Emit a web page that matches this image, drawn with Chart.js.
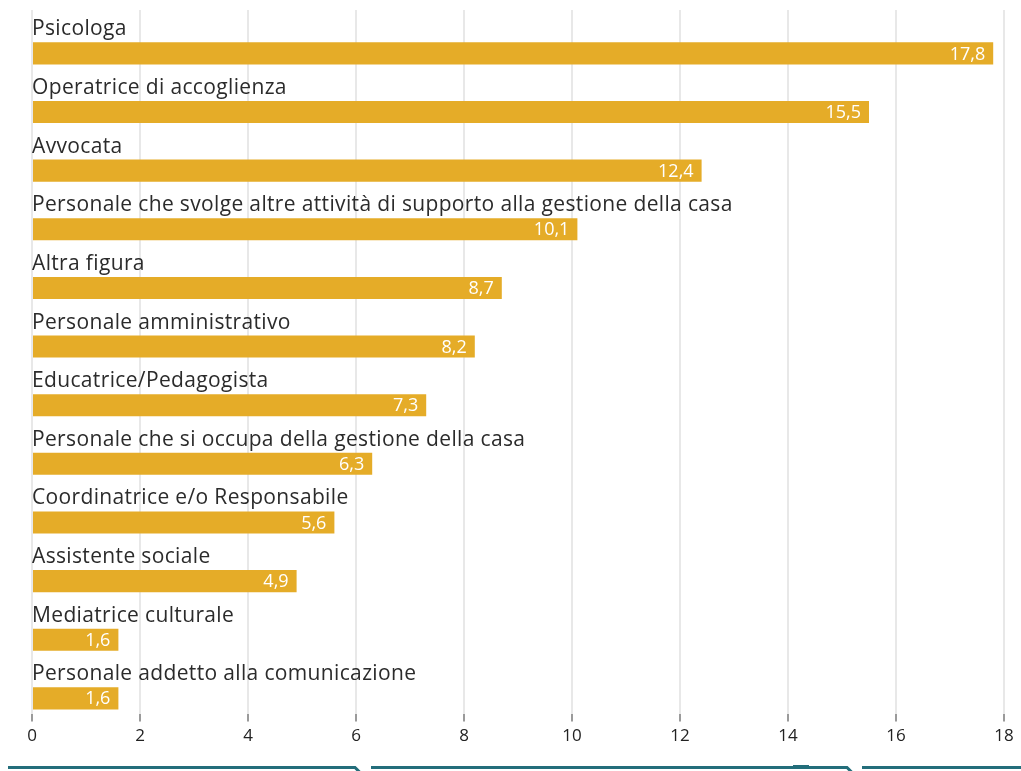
<!DOCTYPE html>
<html lang="it">
<head>
<meta charset="utf-8">
<title>Figure professionali</title>
<script src="https://cdn.jsdelivr.net/npm/chart.js@4/dist/chart.umd.min.js"></script>
<style>
  html, body { margin: 0; padding: 0; background: #ffffff; }
  #wrap { position: relative; width: 1021px; height: 771px; }
</style>
</head>
<body>
<div id="wrap"><canvas id="chart" width="1021" height="771"></canvas></div>
<script>
// Figure professionali presenti nelle case (valori percentuali)
const categories = [
  "Psicologa",
  "Operatrice di accoglienza",
  "Avvocata",
  "Personale che svolge altre attività di supporto alla gestione della casa",
  "Altra figura",
  "Personale amministrativo",
  "Educatrice/Pedagogista",
  "Personale che si occupa della gestione della casa",
  "Coordinatrice e/o Responsabile",
  "Assistente sociale",
  "Mediatrice culturale",
  "Personale addetto alla comunicazione"
];
const values = [17.8, 15.5, 12.4, 10.1, 8.7, 8.2, 7.3, 6.3, 5.6, 4.9, 1.6, 1.6];
const axisTicks = [0, 2, 4, 6, 8, 10, 12, 14, 16, 18];

const BAR_COLOR = "#E5AC28";
const LABEL_FONT = "21px 'Open Sans', sans-serif";
const VALUE_FONT = "18px 'Open Sans', sans-serif";

const fmt = v => v.toFixed(1).replace(".", ",");

// Category names sit above each bar, value labels inside the bar end
const labelPlugin = {
  id: "barLabels",
  afterDatasetsDraw(chart) {
    const ctx = chart.ctx;
    const left = chart.chartArea.left;
    const meta = chart.getDatasetMeta(1);
    ctx.save();
    meta.data.forEach((bar, i) => {
      const top = bar.y - bar.height / 2;
      ctx.font = LABEL_FONT;
      ctx.letterSpacing = "0.35px";
      ctx.fillStyle = "#2b2b2b";
      ctx.textAlign = "left";
      ctx.textBaseline = "alphabetic";
      ctx.fillText(categories[i], left, top - 7);

      ctx.font = VALUE_FONT;
      ctx.letterSpacing = "0px";
      ctx.fillStyle = "#ffffff";
      ctx.textAlign = "right";
      ctx.textBaseline = "middle";
      ctx.fillText(fmt(values[i]), bar.x - 8, bar.y + 1);
    });
    ctx.restore();
  }
};

// Teal navigation rule along the bottom edge
const footerPlugin = {
  id: "footerRule",
  afterDraw(chart) {
    const ctx = chart.ctx;
    const y = 767.5;
    ctx.save();
    ctx.strokeStyle = "#236E7B";
    ctx.lineWidth = 3;
    ctx.lineCap = "butt";
    ctx.beginPath();
    ctx.moveTo(8, y); ctx.lineTo(355, y); ctx.lineTo(360, y + 5);
    ctx.moveTo(371, y); ctx.lineTo(847, y); ctx.lineTo(852, y + 5);
    ctx.moveTo(862, y); ctx.lineTo(1021, y);
    ctx.stroke();
    ctx.fillStyle = "#236E7B";
    ctx.fillRect(793, y - 2.5, 16, 4);
    ctx.restore();
  }
};

new Chart(document.getElementById("chart"), {
  type: "bar",
  data: {
    labels: categories,
    datasets: [
      { data: categories.map(() => null), backgroundColor: "rgba(0,0,0,0)" },
      { data: values, backgroundColor: BAR_COLOR, borderWidth: 0 }
    ]
  },
  options: {
    indexAxis: "y",
    responsive: false,
    animation: false,
    devicePixelRatio: 1,
    layout: { padding: { top: 10, left: 32, right: 17, bottom: 21 } },
    datasets: { bar: { categoryPercentage: 0.96, barPercentage: 0.785, grouped: true } },
    plugins: { legend: { display: false }, tooltip: { enabled: false } },
    scales: {
      y: { type: "category", display: false },
      x: {
        type: "linear",
        min: 0,
        max: 18,
        afterBuildTicks(scale) { scale.ticks = axisTicks.map(v => ({ value: v })); },
        border: { display: false },
        grid: { color: "#e8e8e8", lineWidth: 2, tickColor: "#9a9a9a", tickLength: 8, tickWidth: 2 },
        ticks: { font: { family: "'Open Sans', sans-serif", size: 17 }, color: "#222222", padding: 4, maxRotation: 0 }
      }
    }
  },
  plugins: [labelPlugin, footerPlugin]
});
</script>
</body>
</html>
